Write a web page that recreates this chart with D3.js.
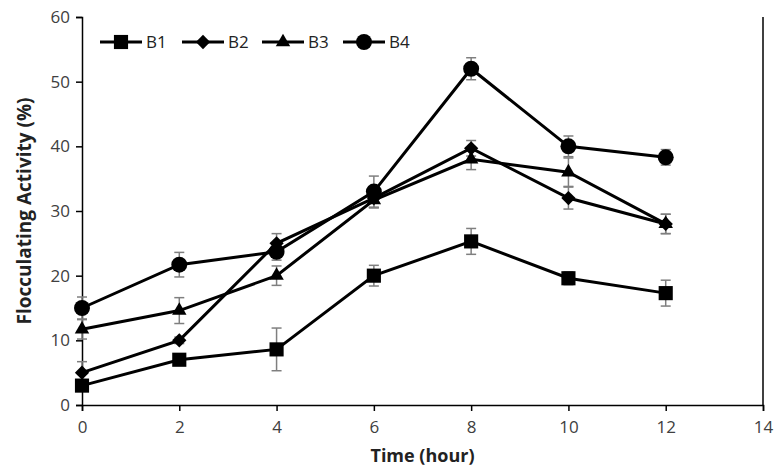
<!DOCTYPE html>
<html><head><meta charset="utf-8">
<script src="https://cdn.jsdelivr.net/npm/d3@7"></script>
<style>body{margin:0;background:#fff}svg{display:block}text{font-family:"Open Sans",sans-serif}</style>
</head><body><svg id="c" width="775" height="471"></svg>
<script>
const times=[0,2,4,6,8,10,12];
const seriesNames=["B1","B2","B3","B4"];
const symbolsUsed=["square","diamond","triangle","circle"];
const b1=[3,7,8.6,20,25.3,19.6,17.3];
const b1Err=[0.5,0.5,3.3,1.6,2,1,2];
const b2=[5,10,25,32,39.7,32,28];
const b2Err=[1.7,0.5,1.5,1.5,1.2,1.7,1.5];
const b3=[11.7,14.6,20,31.7,38,36,28];
const b3Err=[1.5,2,1.5,1.2,1.6,2.2,1.5];
const b4=[15,21.7,23.7,33,52,40,38.3];
const b4Err=[1.7,1.9,1.3,2.4,1.7,1.6,1.2];
const xTicks=[0,2,4,6,8,10,12,14];
const yTicks=[0,10,20,30,40,50,60];

const values=[b1,b2,b3,b4], errs=[b1Err,b2Err,b3Err,b4Err];
const svg=d3.select("#c");
const L=82,R=763,T=17,B=405;
const x=d3.scaleLinear().domain([0,14]).range([L,R]);
const y=d3.scaleLinear().domain([0,60]).range([B,T]);

const ax=svg.append("g").attr("transform",`translate(0,${B})`).call(d3.axisBottom(x).tickValues(xTicks).tickSize(6).tickPadding(10));
const ay=svg.append("g").attr("transform",`translate(${L},0)`).call(d3.axisLeft(y).tickValues(yTicks).tickSize(6).tickPadding(6));
[ax,ay].forEach(g=>{g.select(".domain").attr("stroke","#000").attr("stroke-width",1.5);
 g.selectAll(".tick line").attr("stroke","#000").attr("stroke-width",1.5);
 g.selectAll(".tick text").attr("fill","#404040").attr("font-size",17);});
svg.append("line").attr("x1",R).attr("x2",R).attr("y1",T).attr("y2",B).attr("stroke","#000").attr("stroke-width",1.5);

svg.append("text").attr("x",(L+R)/2).attr("y",462).attr("text-anchor","middle").attr("font-weight","bold").attr("font-size",18).attr("fill","#222").text("Time (hour)");
svg.append("text").attr("transform",`translate(31,${(T+B)/2}) rotate(-90)`).attr("text-anchor","middle").attr("font-weight","bold").attr("font-size",19).attr("fill","#222").text("Flocculating Activity (%)");

const symType={square:d3.symbolSquare,diamond:d3.symbolDiamond2,triangle:d3.symbolTriangle2,circle:d3.symbolCircle};
const symSize={square:200,diamond:130,triangle:150,circle:200};
function sym(name){return d3.symbol().type(symType[name]).size(symSize[name])();}

const line=d3.line().x((d,i)=>x(times[i])).y(d=>y(d));
values.forEach((vals,si)=>{
  const g=svg.append("g").attr("stroke","#7f7f7f").attr("stroke-width",1.5);
  vals.forEach((v,i)=>{
    const e=errs[si][i], cx=x(times[i]);
    g.append("line").attr("x1",cx).attr("x2",cx).attr("y1",y(v-e)).attr("y2",y(v+e));
    g.append("line").attr("x1",cx-5).attr("x2",cx+5).attr("y1",y(v-e)).attr("y2",y(v-e));
    g.append("line").attr("x1",cx-5).attr("x2",cx+5).attr("y1",y(v+e)).attr("y2",y(v+e));
  });
});
values.forEach((vals,si)=>{
  svg.append("path").datum(vals).attr("d",line).attr("fill","none").attr("stroke","#000").attr("stroke-width",3);
  svg.append("g").selectAll("path").data(vals).join("path")
    .attr("transform",(d,i)=>`translate(${x(times[i])},${y(d)})`).attr("d",sym(symbolsUsed[si])).attr("fill","#000");
});
const lx=[100,182,262,343];
seriesNames.forEach((n,i)=>{
  const g=svg.append("g").attr("transform",`translate(${lx[i]},42)`);
  g.append("line").attr("x1",0).attr("x2",42).attr("stroke","#000").attr("stroke-width",3);
  g.append("path").attr("transform","translate(21,0)").attr("d",sym(symbolsUsed[i])).attr("fill","#000");
  g.append("text").attr("x",46).attr("y",6).attr("font-size",17).attr("fill","#222").text(n);
});
</script></body></html>
